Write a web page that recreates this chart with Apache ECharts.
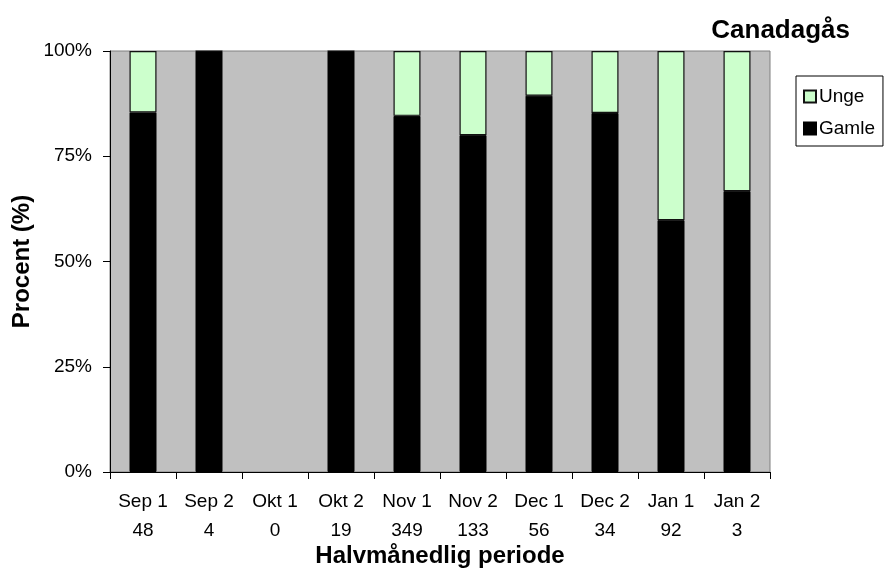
<!DOCTYPE html>
<html>
<head>
<meta charset="utf-8">
<script src="https://cdn.jsdelivr.net/npm/echarts@6/dist/echarts.min.js"></script>
<style>
html,body{margin:0;padding:0;background:#fff;}
#chart{width:886px;height:574px;}
</style>
</head>
<body>
<div id="chart"></div>
<script>
const periods = ['Sep 1','Sep 2','Okt 1','Okt 2','Nov 1','Nov 2','Dec 1','Dec 2','Jan 1','Jan 2'];
const counts = [48, 4, 0, 19, 349, 133, 56, 34, 92, 3];
const gamle = [85.4, 100, null, 100, 84.6, 80.0, 89.4, 85.3, 59.8, 66.7];
const unge  = [14.6, 0, null, 0, 15.4, 20.0, 10.6, 14.7, 40.2, 33.3];
const yTicks = [0, 25, 50, 75, 100];

const FONT = '"Liberation Sans", Arial, sans-serif';
const chart = echarts.init(document.getElementById('chart'), null, {renderer: 'canvas'});
const categories = periods.map((p, i) => p + '\n' + counts[i]);

chart.setOption({
  animation: false,
  backgroundColor: '#ffffff',
  title: {
    text: 'Canadagås',
    right: 31,
    top: 13,
    textStyle: {fontFamily: FONT, fontSize: 26, fontWeight: 'bold', color: '#000'}
  },
  legend: {
    data: ['Unge', 'Gamle'],
    orient: 'vertical',
    left: 796,
    top: 76,
    width: 88,
    backgroundColor: '#fff',
    borderColor: '#000',
    borderWidth: 1,
    borderRadius: 0,
    padding: [11, 8, 8, 7],
    itemGap: 13,
    itemWidth: 12,
    itemHeight: 12,
    icon: 'rect',
    textStyle: {fontFamily: FONT, fontSize: 19, color: '#000', padding: [0, 0, 0, -2]}
  },
  grid: {
    left: 110, right: 116, top: 51, bottom: 102,
    outerBoundsMode: 'none',
    containLabel: false,
    show: true,
    backgroundColor: '#C0C0C0',
    borderColor: '#808080',
    borderWidth: 1
  },
  xAxis: {
    type: 'category',
    data: categories,
    name: 'Halvmånedlig periode',
    nameLocation: 'middle',
    nameMoveOverlap: false,
    nameGap: 72,
    nameTextStyle: {fontFamily: FONT, fontSize: 24, fontWeight: 'bold', color: '#000'},
    axisLine: {show: true, lineStyle: {color: '#000', width: 1}},
    axisTick: {show: true, length: 7, lineStyle: {color: '#000'}},
    axisLabel: {
      fontFamily: FONT, fontSize: 19, color: '#000',
      lineHeight: 29, margin: 15, interval: 0
    },
    splitLine: {show: false}
  },
  yAxis: {
    type: 'value',
    min: 0, max: 100, interval: 25,
    name: 'Procent (%)',
    nameLocation: 'middle',
    nameMoveOverlap: false,
    nameGap: 76,
    nameTextStyle: {fontFamily: FONT, fontSize: 24, fontWeight: 'bold', color: '#000'},
    axisLine: {show: true, lineStyle: {color: '#000', width: 1}},
    axisTick: {show: true, length: 7, lineStyle: {color: '#000'}},
    axisLabel: {
      fontFamily: FONT, fontSize: 19, color: '#000', margin: 18,
      formatter: function (v) { return yTicks.indexOf(v) >= 0 ? v + '%' : ''; }
    },
    splitLine: {show: false}
  },
  series: [
    {
      name: 'Gamle', type: 'bar', stack: 'a', data: gamle,
      barWidth: 27,
      itemStyle: {color: '#000000', borderColor: '#000', borderWidth: 1}
    },
    {
      name: 'Unge', type: 'bar', stack: 'a', data: unge,
      barWidth: 27,
      itemStyle: {color: '#CCFFCC', borderColor: '#111', borderWidth: 1.2}
    }
  ]
});
</script>
</body>
</html>
